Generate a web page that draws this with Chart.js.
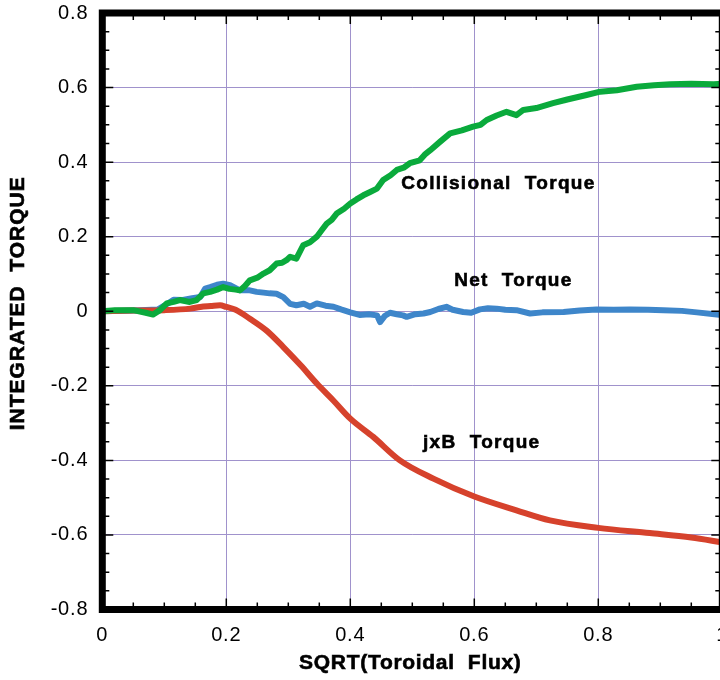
<!DOCTYPE html>
<html><head><meta charset="utf-8">
<script src="https://cdn.jsdelivr.net/npm/chart.js@4"></script>
<style>html,body{margin:0;padding:0;background:#fff;overflow:hidden}
#wrap{position:relative;width:740px;height:680px}</style></head>
<body><div id="wrap"><canvas id="c"></canvas></div>
<script>
// ---- data ----
const collX = [0,0.02,0.05,0.07,0.082,0.093,0.104,0.115,0.125,0.141,0.152,0.163,0.174,0.185,0.195,0.205,0.215,0.222,0.23,0.238,0.25,0.26,0.27,0.281,0.29,0.297,0.303,0.313,0.324,0.335,0.346,0.355,0.362,0.37,0.378,0.39,0.4,0.41,0.421,0.432,0.443,0.453,0.465,0.475,0.486,0.496,0.512,0.52,0.529,0.545,0.561,0.58,0.598,0.61,0.62,0.636,0.652,0.668,0.679,0.7,0.727,0.75,0.781,0.803,0.83,0.862,0.89,0.916,0.95,0.986,1.0];
const collY = [0,0.003,0.003,-0.004,-0.009,0.003,0.021,0.025,0.03,0.025,0.03,0.048,0.052,0.058,0.065,0.06,0.058,0.056,0.068,0.083,0.09,0.101,0.11,0.128,0.13,0.137,0.146,0.141,0.177,0.185,0.2,0.22,0.235,0.245,0.262,0.275,0.289,0.3,0.311,0.32,0.329,0.352,0.365,0.379,0.385,0.397,0.405,0.42,0.432,0.455,0.477,0.485,0.495,0.5,0.513,0.525,0.535,0.526,0.54,0.545,0.558,0.568,0.58,0.589,0.593,0.602,0.606,0.609,0.61,0.609,0.61];
const netX = [0,0.05,0.09,0.1,0.115,0.13,0.145,0.158,0.166,0.174,0.185,0.195,0.206,0.222,0.238,0.249,0.26,0.27,0.281,0.292,0.303,0.313,0.325,0.335,0.346,0.36,0.373,0.385,0.4,0.415,0.43,0.443,0.448,0.456,0.464,0.475,0.485,0.491,0.505,0.518,0.529,0.542,0.555,0.565,0.582,0.595,0.609,0.622,0.636,0.65,0.668,0.69,0.71,0.744,0.77,0.797,0.825,0.851,0.88,0.905,0.935,0.959,0.991,1.0];
const netY = [0,0.002,0.005,0.015,0.031,0.03,0.035,0.038,0.061,0.065,0.071,0.074,0.07,0.056,0.056,0.052,0.05,0.048,0.047,0.038,0.02,0.016,0.02,0.012,0.021,0.015,0.012,0.005,-0.003,-0.01,-0.008,-0.011,-0.029,-0.012,-0.004,-0.008,-0.011,-0.015,-0.008,-0.006,-0.002,0.006,0.012,0.004,-0.002,-0.004,0.005,0.008,0.007,0.004,0.003,-0.006,-0.003,-0.002,0.002,0.005,0.004,0.005,0.004,0.003,0.001,-0.003,-0.009,-0.01];
const jxbX = [0,0.05,0.1,0.142,0.158,0.175,0.19,0.2,0.215,0.238,0.265,0.292,0.32,0.346,0.373,0.4,0.437,0.48,0.534,0.6,0.668,0.722,0.8,0.883,0.95,1.0];
const jxbY = [0,0.002,0.003,0.007,0.0115,0.014,0.016,0.0115,0.004,-0.02,-0.052,-0.096,-0.145,-0.194,-0.24,-0.288,-0.337,-0.4,-0.449,-0.497,-0.534,-0.561,-0.581,-0.595,-0.607,-0.62];
const seriesNames = ['Collisional  Torque','Net  Torque','jxB  Torque'];
const labelX = [0.639, 0.663, 0.612];
const labelY = [0.341, 0.0805, -0.354];
const xTitle = 'SQRT(Toroidal  Flux)';
const yTitle = 'INTEGRATED  TORQUE';
const xTickLabels = ['0','0.2','0.4','0.6','0.8','1'];
const yTickLabels = ['-0.8','-0.6','-0.4','-0.2','0','0.2','0.4','0.6','0.8'];

const pts = (xs, ys) => xs.map((x, i) => ({x, y: ys[i]}));
const FONT = '"Liberation Sans", Arial, Helvetica, sans-serif';

const framePlugin = {
  id: 'frame',
  beforeDraw(chart) { chart.ctx.letterSpacing = '0.8px'; },
  afterDatasetsDraw(chart) {
    const {ctx, chartArea: a, scales} = chart;
    const xs = scales.x, ys = scales.y;
    ctx.save();
    ctx.strokeStyle = '#000';
    ctx.lineWidth = 1.5;
    ctx.beginPath();
    for (let k = 0; k <= 20; k++) {
      const v = k * 0.05;
      const px = xs.getPixelForValue(v);
      const len = (k % 4 === 0) ? 11 : 7;
      ctx.moveTo(px, a.bottom); ctx.lineTo(px, a.bottom - len);
      ctx.moveTo(px, a.top); ctx.lineTo(px, a.top + len);
    }
    for (let k = 0; k <= 32; k++) {
      const v = -0.8 + k * 0.05;
      const py = ys.getPixelForValue(v);
      const len = (k % 4 === 0) ? 11 : 7;
      ctx.moveTo(a.left, py); ctx.lineTo(a.left + len, py);
      ctx.moveTo(a.right, py); ctx.lineTo(a.right - len, py);
    }
    ctx.stroke();
    ctx.lineWidth = 7;
    ctx.strokeRect(a.left, a.top, a.right - a.left, a.bottom - a.top);
    // series annotations
    ctx.fillStyle = '#000';
    ctx.strokeStyle = '#000';
    ctx.lineWidth = 0.6;
    ctx.font = 'bold 19px ' + FONT;
    ctx.letterSpacing = '1.3px';
    ctx.textAlign = 'center';
    ctx.textBaseline = 'middle';
    seriesNames.forEach((t, i) => {
      const px = xs.getPixelForValue(labelX[i]), py = ys.getPixelForValue(labelY[i]);
      ctx.fillText(t, px, py);
      ctx.strokeText(t, px, py);
    });
    // axis titles
    ctx.font = 'bold 21px ' + FONT;
    ctx.letterSpacing = '0.7px';
    ctx.fillText(xTitle, (a.left + a.right) / 2 - 2, a.bottom + 54);
    ctx.strokeText(xTitle, (a.left + a.right) / 2 - 2, a.bottom + 54);
    ctx.translate(18, (a.top + a.bottom) / 2 - 8);
    ctx.rotate(-Math.PI / 2);
    ctx.letterSpacing = '1px';
    ctx.fillText(yTitle, 0, 0);
    ctx.strokeText(yTitle, 0, 0);
    ctx.restore();
  }
};

new Chart(document.getElementById('c'), {
  type: 'line',
  data: {
    datasets: [
      {label: seriesNames[0], data: pts(collX, collY), borderColor: 'rgb(10,170,60)', borderWidth: 6, tension: 0, order: 1},
      {label: seriesNames[2], data: pts(jxbX, jxbY), borderColor: 'rgb(214,66,44)', borderWidth: 6, cubicInterpolationMode: 'monotone', order: 2},
      {label: seriesNames[1], data: pts(netX, netY), borderColor: 'rgb(62,134,202)', borderWidth: 6, tension: 0, order: 3}
    ]
  },
  options: {
    responsive: true,
    maintainAspectRatio: false,
    animation: false,
    devicePixelRatio: 1,
    elements: {point: {radius: 0}, line: {borderCapStyle: 'round', borderJoinStyle: 'round'}},
    layout: {padding: {left: 0, top: 13, right: 17.7, bottom: 0}},
    plugins: {legend: {display: false}, tooltip: {enabled: false}},
    scales: {
      x: {
        type: 'linear', min: 0, max: 1,
        afterFit(s) { s.height = 70.5; s.paddingLeft = 0; s.paddingRight = 0; },
        border: {display: false},
        grid: {color: 'rgb(160,146,204)', lineWidth: 1, drawTicks: false},
        ticks: {stepSize: 0.2, padding: 14, color: '#000', font: {family: FONT, size: 20},
          callback: v => xTickLabels[Math.round(v * 5)]}
      },
      y: {
        type: 'linear', min: -0.8, max: 0.8,
        afterFit(s) { s.width = 102.3; s.paddingTop = 0; s.paddingBottom = 0; },
        border: {display: false},
        grid: {color: 'rgb(160,146,204)', lineWidth: 1, drawTicks: false},
        ticks: {stepSize: 0.2, padding: 14, color: '#000', font: {family: FONT, size: 20},
          callback: v => yTickLabels[Math.round((v + 0.8) * 5)]}
      }
    }
  },
  plugins: [framePlugin]
});
</script></body></html>
